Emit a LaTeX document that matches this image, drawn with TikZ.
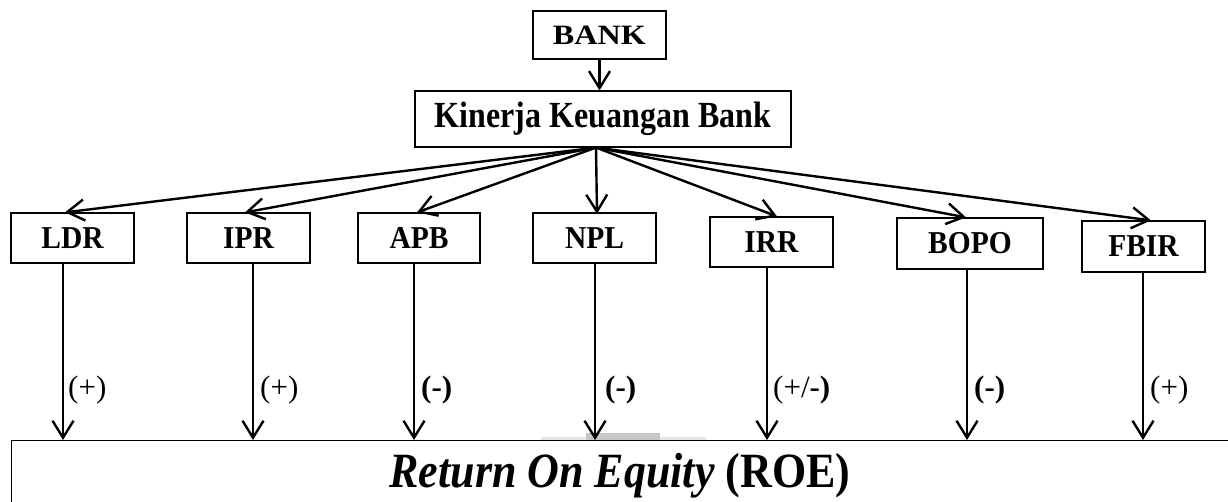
\documentclass[tikz,border=0pt]{standalone}
\usepackage{fontspec}
\setmainfont{Liberation Serif}
\usetikzlibrary{arrows.meta}
\begin{document}
\begin{tikzpicture}[x=1pt,y=-1pt,
  box/.style={draw,line width=1.2pt,inner sep=0pt,minimum width=123pt,minimum height=50pt,font=\fontsize{29.5}{30}\selectfont\bfseries},
  arr/.style={line width=2.4pt,-{Straight Barb[length=17pt,width=21pt]}},
  lab/.style={anchor=west,inner sep=0pt,font=\fontsize{31}{32}\selectfont}]
\useasboundingbox (0,0) rectangle (1228,502);
\clip (0,0) rectangle (1228,502);
% light gray smudge on the ROE box edge
\fill[gray!20] (541,436.5) rectangle (706,440);
\fill[gray!45] (586,433) rectangle (660,440);
% nodes
\node[box,minimum width=133pt,minimum height=48pt,font=\fontsize{28}{30}\selectfont\bfseries] (bank) at (599.5,35) {\scalebox{1.15}[1]{BANK}};
\node[box,minimum width=376pt,minimum height=56pt,font=\fontsize{32}{34}\selectfont\bfseries] (kin) at (603,119) {\scalebox{1}[1.15]{Kinerja Keuangan Bank}};
\node[box] (ldr) at (72.5,238) {\scalebox{1}[1.08]{LDR}};
\node[box] (ipr) at (248.5,238) {\scalebox{1}[1.08]{IPR}};
\node[box,minimum width=122pt] (apb) at (419,238) {\scalebox{1}[1.08]{APB}};
\node[box] (npl) at (594.5,238) {\scalebox{1}[1.08]{NPL}};
\node[box] (irr) at (771.5,242) {\scalebox{1}[1.08]{IRR}};
\node[box,minimum width=146pt,minimum height=51pt] (bopo) at (970,243.5) {\scalebox{1}[1.08]{BOPO}};
\node[box,minimum height=51pt] (fbir) at (1143.5,246.5) {\scalebox{1}[1.08]{FBIR}};
\node[draw,line width=1.2pt,inner sep=0pt,minimum width=1240pt,minimum height=90pt,anchor=north west] (roe) at (11,440) {};
\node[inner sep=0pt,anchor=base,font=\fontsize{44}{46}\selectfont\bfseries] (roet) at (620,487) {\scalebox{1}[1.12]{\textit{Return On Equity} (ROE)}};
% top arrow
\draw[arr] (bank.south) -- (bank.south |- kin.north);
% fan
\coordinate (fan) at ([xshift=-7pt]kin.south);
\draw[arr] (fan) -- ([xshift=-7.5pt]ldr.north);
\draw[arr] (fan) -- ([xshift=-3.5pt]ipr.north);
\draw[arr] (fan) -- ([xshift=-2pt]apb.north);
\draw[arr] (fan) -- ([xshift=2.5pt,yshift=-1.5pt]npl.north);
\draw[arr] (fan) -- ([xshift=5.5pt]irr.north);
\draw[arr] (fan) -- ([xshift=-4pt]bopo.north);
\draw[arr] (fan) -- ([xshift=7.5pt]fbir.north);
% vertical arrows to ROE
\draw[arr] ([xshift=-9.5pt]ldr.south) -- ([xshift=-9.5pt]ldr.south |- roe.north);
\draw[arr] ([xshift=4.5pt]ipr.south) -- ([xshift=4.5pt]ipr.south |- roe.north);
\draw[arr] ([xshift=-5pt]apb.south) -- ([xshift=-5pt]apb.south |- roe.north);
\draw[arr] ([xshift=0.5pt]npl.south) -- ([xshift=0.5pt]npl.south |- roe.north);
\draw[arr] ([xshift=-4.5pt]irr.south) -- ([xshift=-4.5pt]irr.south |- roe.north);
\draw[arr] ([xshift=-3pt]bopo.south) -- ([xshift=-3pt]bopo.south |- roe.north);
\draw[arr] ([xshift=-0.5pt]fbir.south) -- ([xshift=-0.5pt]fbir.south |- roe.north);
% labels
\node[lab] (l1) at (68,390) {(+)};
\node[lab] (l2) at (260,390) {(+)};
\node[lab] (l3) at (421,390) {\textbf{(-)}};
\node[lab] (l4) at (605,390) {\textbf{(-)}};
\node[lab] (l5) at (773,390) {(+/\textbf{-)}};
\node[lab] (l6) at (974,390) {\textbf{(-)}};
\node[lab] (l7) at (1150,390) {(+)};
\end{tikzpicture}
\end{document}
